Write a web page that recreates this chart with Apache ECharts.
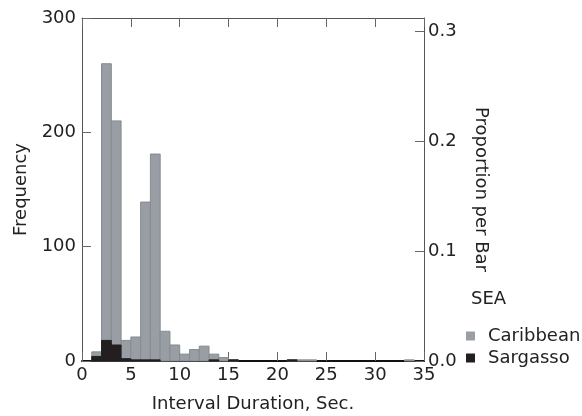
<!DOCTYPE html>
<html>
<head>
<meta charset="utf-8">
<script src="https://cdn.jsdelivr.net/npm/echarts@6/dist/echarts.min.js"></script>
<style>html,body{margin:0;padding:0;background:#fff;}#c{width:582px;height:416px;}</style>
</head>
<body>
<div id="c"></div>
<script>
// Histogram bins (seconds): each bin spans [start, start+1)
var binStart  = [1,2,3,4,5,6,7,8,9,10,11,12,13,14,15,16,17,18,19,20,21,22,23,24,25,26,27,28,29,30,31,32,33];
var caribbean = [8,260,210,18,21,139,181,26,14,6,10,13,6,3,1,0,0,0,0,0,1,1,1,0,0,0,0,0,0,0,0,0,1];
var sargasso  = [4,18,14,2,1,1,1,0,0,0,0,0,1,0,1,0,0,0,0,0,1,0,0,0,0,0,0,0,0,0,0,0,0];
var xTicks = [0,5,10,15,20,25,30,35];
var freqTicks = [0,100,200,300];
var propTicks = [0.0,0.1,0.2,0.3];
var totalN = 962;

var FONT = 'DejaVu Sans';
var FS = 18;

function toData(arr){
  var out = [];
  for (var i=0;i<binStart.length;i++){ out.push([binStart[i], binStart[i]+1, arr[i]]); }
  return out;
}
function makeRender(fill, stroke){
  return function(params, api){
    var p0 = api.coord([api.value(0), 0]);
    var p1 = api.coord([api.value(1), api.value(2)]);
    var h = p0[1]-p1[1];
    if (h <= 0) return null;
    return {type:'rect', shape:{x:p0[0], y:p1[1], width:p1[0]-p0[0], height:h},
      style:{fill:fill, stroke:stroke, lineWidth:1}};
  };
}

var chart = echarts.init(document.getElementById('c'));
chart.setOption({
  animation:false,
  backgroundColor:'#fff',
  textStyle:{fontFamily:FONT},
  title:{text:'SEA', left:466, top:285, textStyle:{fontFamily:FONT, fontSize:FS, fontWeight:'normal', color:'#222'}},
  legend:{orient:'vertical', left:461, top:322, itemWidth:9, itemHeight:9, itemGap:4,
    textStyle:{fontFamily:FONT, fontSize:FS, color:'#222', padding:[0,0,0,8]},
    data:[{name:'Caribbean', icon:'rect', itemStyle:{color:'#989ea4'}},{name:'Sargasso', icon:'rect', itemStyle:{color:'#231f20'}}]},
  grid:{left:82, right:158, top:18, bottom:55, containLabel:false, outerBoundsMode:'none'},
  xAxis:[{
    type:'value', min:xTicks[0], max:xTicks[xTicks.length-1], interval:5, position:'bottom',
    name:'Interval Duration, Sec.', nameLocation:'middle', nameGap:34,
    nameTextStyle:{fontFamily:FONT, fontSize:FS, color:'#222'},
    axisLine:{onZero:false, lineStyle:{color:'#111', width:2}},
    axisTick:{inside:true, length:9, lineStyle:{color:'#666'}},
    axisLabel:{fontFamily:FONT, fontSize:FS, color:'#222', margin:5},
    splitLine:{show:false}
  },{
    type:'value', min:xTicks[0], max:xTicks[xTicks.length-1], interval:5, position:'top',
    axisLine:{onZero:false, lineStyle:{color:'#555', width:1}},
    axisTick:{inside:true, length:9, lineStyle:{color:'#666'}},
    axisLabel:{show:false}, splitLine:{show:false}
  }],
  yAxis:[{
    type:'value', min:freqTicks[0], max:freqTicks[freqTicks.length-1], interval:100, position:'left',
    name:'Frequency', nameLocation:'middle', nameGap:52, nameRotate:90,
    nameTextStyle:{fontFamily:FONT, fontSize:FS, color:'#222'},
    axisLine:{show:true, onZero:false, lineStyle:{color:'#555', width:1}},
    axisTick:{show:true, inside:true, length:9, lineStyle:{color:'#666'}},
    axisLabel:{fontFamily:FONT, fontSize:FS, color:'#222', margin:6},
    splitLine:{show:false}
  },{
    type:'value', min:0, max:freqTicks[freqTicks.length-1]/totalN, interval:0.1, position:'right',
    name:'Proportion per Bar', nameLocation:'middle', nameGap:48, nameRotate:-90,
    nameTextStyle:{fontFamily:FONT, fontSize:FS, color:'#222'},
    axisLine:{show:true, onZero:false, lineStyle:{color:'#555', width:1}},
    axisTick:{show:true, inside:true, length:9, lineStyle:{color:'#666'}},
    axisLabel:{fontFamily:FONT, fontSize:FS, color:'#222', margin:4, showMaxLabel:false,
      formatter:function(v){
        for (var i=0;i<propTicks.length;i++){ if (Math.abs(v-propTicks[i])<1e-6) return propTicks[i].toFixed(1); }
        return '';
      }},
    splitLine:{show:false}
  }],
  series:[{
    name:'Caribbean', type:'custom', xAxisIndex:0, yAxisIndex:0,
    itemStyle:{color:'#989ea4'},
    encode:{x:[0,1], y:2},
    renderItem:makeRender('#989ea4','#858b91'),
    data:toData(caribbean), z:2
  },{
    name:'Sargasso', type:'custom', xAxisIndex:0, yAxisIndex:0,
    itemStyle:{color:'#231f20'},
    encode:{x:[0,1], y:2},
    renderItem:makeRender('#231f20','#231f20'),
    data:toData(sargasso), z:3
  }]
});
</script>
</body>
</html>
